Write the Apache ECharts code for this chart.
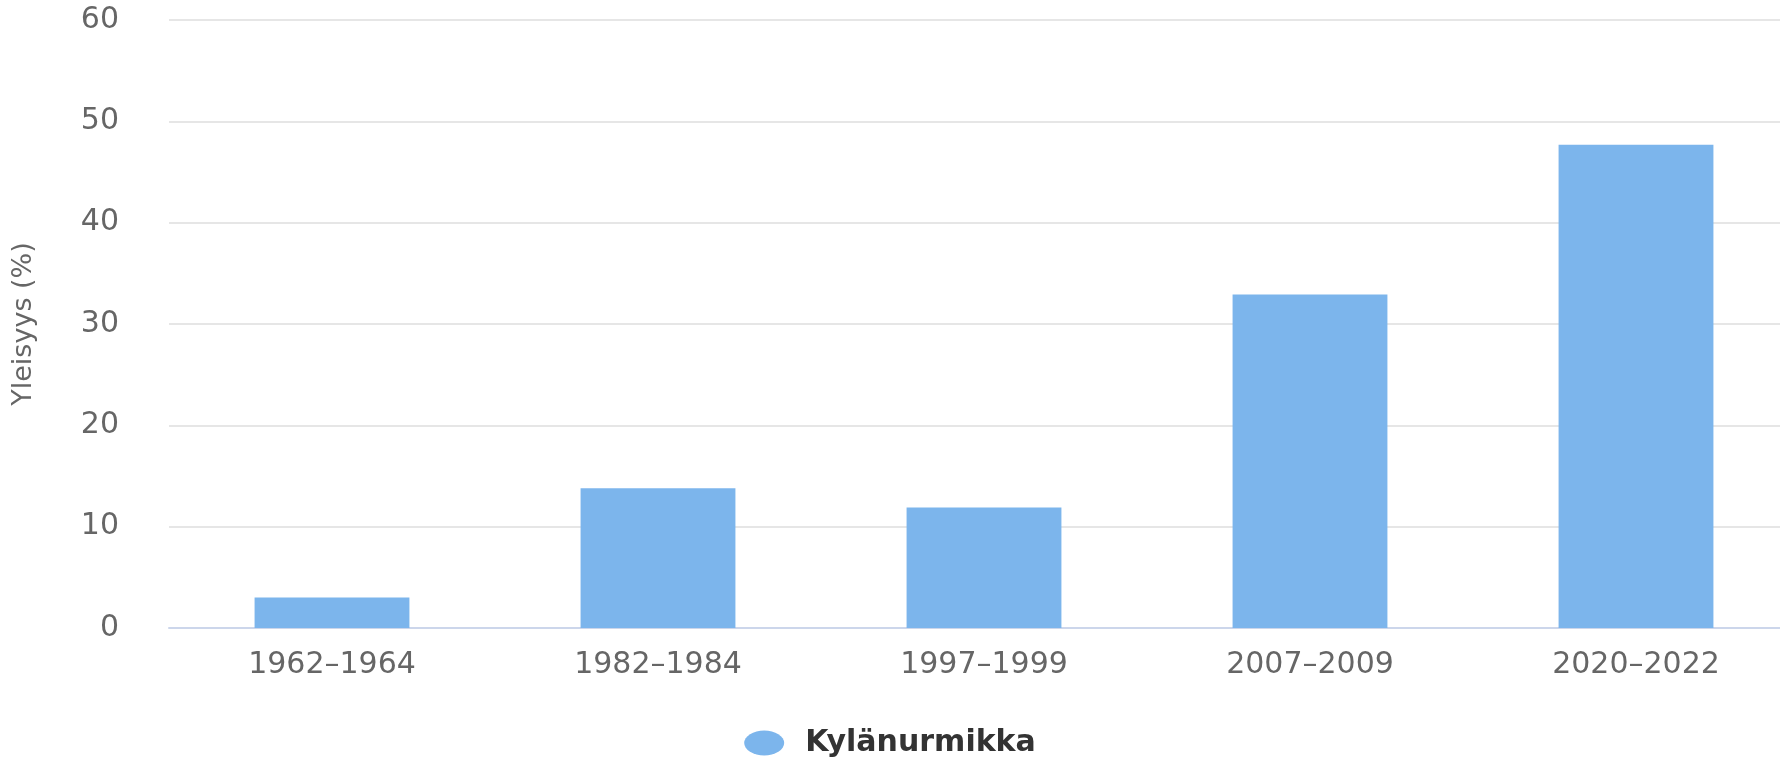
<!DOCTYPE html>
<html>
<head>
<meta charset="utf-8">
<style>
  html, body { margin: 0; padding: 0; background: #ffffff; }
  #chart { width: 1780px; height: 758px; }
</style>
<script src="https://cdn.jsdelivr.net/npm/echarts@6/dist/echarts.min.js"></script>
</head>
<body>
<div id="chart"></div>
<script>
const categories = ['1962–1964', '1982–1984', '1997–1999', '2007–2009', '2020–2022'];
const seriesName = 'Kylänurmikka';
const values = [3, 13.8, 11.9, 32.9, 47.7];
const yAxisTitle = 'Yleisyys (%)';
const yTicks = { min: 0, max: 60, interval: 10 };

const chart = echarts.init(document.getElementById('chart'), null, { renderer: 'canvas' });
chart.setOption({
  animation: false,
  backgroundColor: '#ffffff',
  textStyle: { fontFamily: 'DejaVu Sans' },
  grid: { left: 169, top: 20, bottom: 130, width: 1630, containLabel: false, outerBoundsMode: 'none' },
  legend: {
    show: true,
    left: 'center',
    top: 723,
    icon: 'path://M0,50 A50,50 0 1,1 100,50 A50,50 0 1,1 0,50 Z',
    symbolKeepAspect: false,
    itemWidth: 40,
    itemHeight: 25,
    itemGap: 20,
    textStyle: { color: '#333333', fontSize: 30, fontWeight: 'bold', fontFamily: 'DejaVu Sans', padding: [0, 0, 0, 16] },
    data: [seriesName]
  },
  xAxis: {
    type: 'category',
    data: categories,
    axisLine: { show: true, lineStyle: { color: '#ccd6eb', width: 2 } },
    axisTick: { show: false },
    axisLabel: { color: '#666666', fontSize: 30, margin: 22, fontFamily: 'DejaVu Sans' },
    splitLine: { show: false }
  },
  yAxis: {
    type: 'value',
    min: yTicks.min,
    max: yTicks.max,
    interval: yTicks.interval,
    name: yAxisTitle,
    nameLocation: 'middle',
    nameRotate: 90,
    nameGap: 132,
    nameTextStyle: { color: '#666666', fontSize: 27, fontFamily: 'DejaVu Sans' },
    axisLine: { show: false },
    axisTick: { show: false },
    axisLabel: { color: '#666666', fontSize: 30, margin: 50, fontFamily: 'DejaVu Sans' },
    splitLine: { show: true, lineStyle: { color: '#e6e6e6', width: 2 } }
  },
  series: [{
    name: seriesName,
    type: 'bar',
    data: values,
    barWidth: '47.5%',
    itemStyle: { color: '#7cb5ec' }
  }]
});
</script>
</body>
</html>
